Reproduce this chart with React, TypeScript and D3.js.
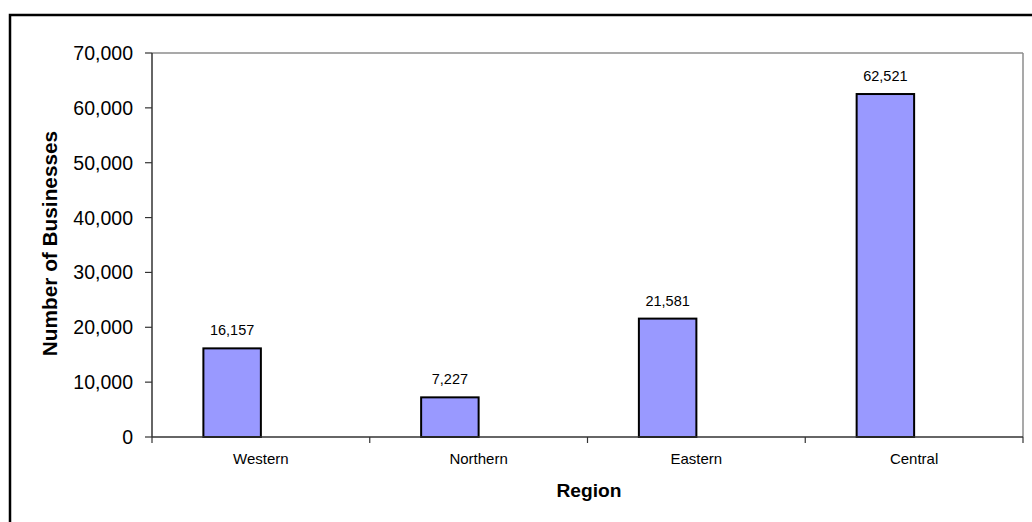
import React from "react";
import * as d3 from "d3";

const regions = ["Western", "Northern", "Eastern", "Central"];
const businesses = [16157, 7227, 21581, 62521];
const yTicks = [0, 10000, 20000, 30000, 40000, 50000, 60000, 70000];

const W = 1032;
const H = 522;
const plot = { left: 152, right: 1023, top: 53, bottom: 437 };

export default function App() {
  const x = d3
    .scaleBand<string>()
    .domain(regions)
    .range([plot.left, plot.right])
    .paddingInner(0)
    .paddingOuter(0);
  const y = d3.scaleLinear().domain([0, 70000]).range([plot.bottom, plot.top]);
  const fmt = d3.format(",");
  const band = x.bandwidth();
  const barW = band * 0.264;
  const font = "Arial, 'Liberation Sans', Helvetica, sans-serif";
  const boundaries = regions.map((r) => x(r) as number).concat([plot.right]);

  return (
    <svg
      width={W}
      height={H}
      style={{ position: "absolute", left: 0, top: 0, background: "#fff" }}
      fontFamily={font}
    >
      {/* outer chart frame */}
      <rect x={10} y={15} width={1040} height={530} fill="none" stroke="#000" strokeWidth={2.5} />

      {/* plot area frame */}
      <line x1={plot.left} x2={plot.right} y1={plot.top} y2={plot.top} stroke="#8c8c8c" strokeWidth={1.5} />
      <line x1={plot.right} x2={plot.right} y1={plot.top} y2={plot.bottom} stroke="#8c8c8c" strokeWidth={1.5} />

      {/* bars */}
      {regions.map((r, i) => {
        const cx = (x(r) as number) + band / 2;
        return (
          <g key={r}>
            <rect
              x={cx - barW}
              y={y(businesses[i])}
              width={barW}
              height={plot.bottom - y(businesses[i])}
              fill="#9999ff"
              stroke="#000"
              strokeWidth={2}
            />
            <text
              x={cx - barW / 2}
              y={y(businesses[i]) - 13}
              textAnchor="middle"
              fontSize={14.5}
              fill="#000"
            >
              {fmt(businesses[i])}
            </text>
          </g>
        );
      })}

      {/* y axis */}
      <line x1={plot.left} x2={plot.left} y1={plot.top} y2={plot.bottom} stroke="#333" strokeWidth={1.5} />
      {yTicks.map((t) => (
        <g key={t}>
          <line x1={plot.left - 7} x2={plot.left} y1={y(t)} y2={y(t)} stroke="#333" strokeWidth={1.2} />
          <text
            x={plot.left - 19}
            y={y(t)}
            textAnchor="end"
            dominantBaseline="central"
            fontSize={19.5}
            fill="#000"
          >
            {fmt(t)}
          </text>
        </g>
      ))}

      {/* x axis */}
      <line x1={plot.left} x2={plot.right} y1={plot.bottom} y2={plot.bottom} stroke="#333" strokeWidth={1.5} />
      {boundaries.map((b, i) => (
        <line key={i} x1={b} x2={b} y1={plot.bottom} y2={plot.bottom + 6} stroke="#333" strokeWidth={1.2} />
      ))}
      {regions.map((r) => (
        <text
          key={r}
          x={(x(r) as number) + band / 2}
          y={464}
          textAnchor="middle"
          fontSize={15}
          fill="#000"
        >
          {r}
        </text>
      ))}

      {/* axis titles */}
      <text
        x={589}
        y={497}
        textAnchor="middle"
        fontSize={19.2}
        fontWeight="bold"
        fill="#000"
      >
        Region
      </text>
      <text
        transform={`translate(49, 243.5) rotate(-90)`}
        textAnchor="middle"
        dominantBaseline="central"
        fontSize={20.8}
        fontWeight="bold"
        fill="#000"
      >
        Number of Businesses
      </text>
    </svg>
  );
}
